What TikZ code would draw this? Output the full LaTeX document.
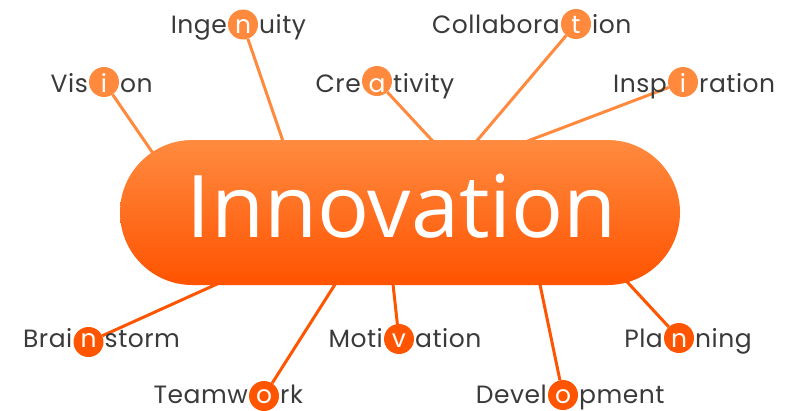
\documentclass[tikz,border=0pt]{standalone}
\usepackage{fontspec}
\newfontfamily\lblfont[LetterSpace=2]{Poppins}
\newfontfamily\bigfont{Open Sans}
\usetikzlibrary{shapes.misc,backgrounds}
\definecolor{lighto}{HTML}{FF8A3D}
\definecolor{darko}{HTML}{FF5500}
\definecolor{pilltop}{HTML}{FF8B40}
\definecolor{pillbot}{HTML}{FF5300}
\definecolor{txtgray}{HTML}{3A3A3A}
\tikzset{
  dot/.style={circle, inner sep=0pt, minimum size=30pt},
  wtxt/.style={inner sep=0pt, font=\lblfont\fontsize{25}{26}\selectfont, text=txtgray},
  pill/.style={rounded rectangle, minimum width=560pt, minimum height=145pt,
    top color=pilltop, bottom color=pillbot, inner sep=0pt},
  conn/.style={line width=3pt},
}
\newcommand\kword[8]{% name, cx, cy, baseline, prefix, letter, suffix, color
  \node[dot, fill=#8] (#1) at (#2,#3) {};
  \node[wtxt, text=white, anchor=base] (#1l) at (#2,#4) {#6};
  \node[wtxt, anchor=base east] (#1p) at (#2-16,#4) {#5};
  \node[wtxt, anchor=base west] (#1s) at (#2+16,#4) {#7};
}
\begin{document}
\begin{tikzpicture}[x=1pt,y=-1pt]
\useasboundingbox (0,0) rectangle (794,410);
\node[pill] (inn) at (400,212.5) {};
\node[font=\bigfont\fontsize{86.5}{87}\selectfont, text=white, anchor=base, inner sep=0pt] (innt) at (402,237) {Innovation};

\kword{vis}{104}{82}{92}{Vis}{i}{on}{lighto}
\kword{ing}{243}{24.5}{33}{Inge}{n}{uity}{lighto}
\kword{cre}{377}{81}{92}{Cre}{a}{tivity}{lighto}
\kword{col}{576}{24}{33}{Collabora}{t}{ion}{lighto}
\kword{ins}{683}{82}{92}{Insp}{i}{ration}{lighto}
\kword{bra}{88.5}{342}{347}{Brai}{n}{storm}{darko}
\kword{tea}{264}{396}{403}{Teamw}{o}{rk}{darko}
\kword{mot}{399}{339}{347}{Moti}{v}{ation}{darko}
\kword{dev}{563}{395}{403}{Devel}{o}{pment}{darko}
\kword{pla}{679}{338}{347}{Pla}{n}{ning}{darko}

\begin{scope}[on background layer]
  \coordinate (pvis) at (159,162);
  \coordinate (ping) at (286,150);
  \coordinate (pcre) at (441,150);
  \coordinate (pcol) at (469,150);
  \coordinate (pins) at (504,150);
  \coordinate (pbra) at (237,275);
  \coordinate (ptea) at (341,275);
  \coordinate (pmot) at (392,275);
  \coordinate (pdev) at (538,275);
  \coordinate (ppla) at (618,272);
  \draw[conn, lighto] (vis) -- (pvis);
  \draw[conn, lighto] (ing) -- (ping);
  \draw[conn, lighto] (cre) -- (pcre);
  \draw[conn, lighto] (col) -- (pcol);
  \draw[conn, lighto] (ins) -- (pins);
  \draw[conn, darko] (bra) -- (pbra);
  \draw[conn, darko] (tea) -- (ptea);
  \draw[conn, darko] (mot) -- (pmot);
  \draw[conn, darko] (dev) -- (pdev);
  \draw[conn, darko] (pla) -- (ppla);
\end{scope}
\end{tikzpicture}
\end{document}
